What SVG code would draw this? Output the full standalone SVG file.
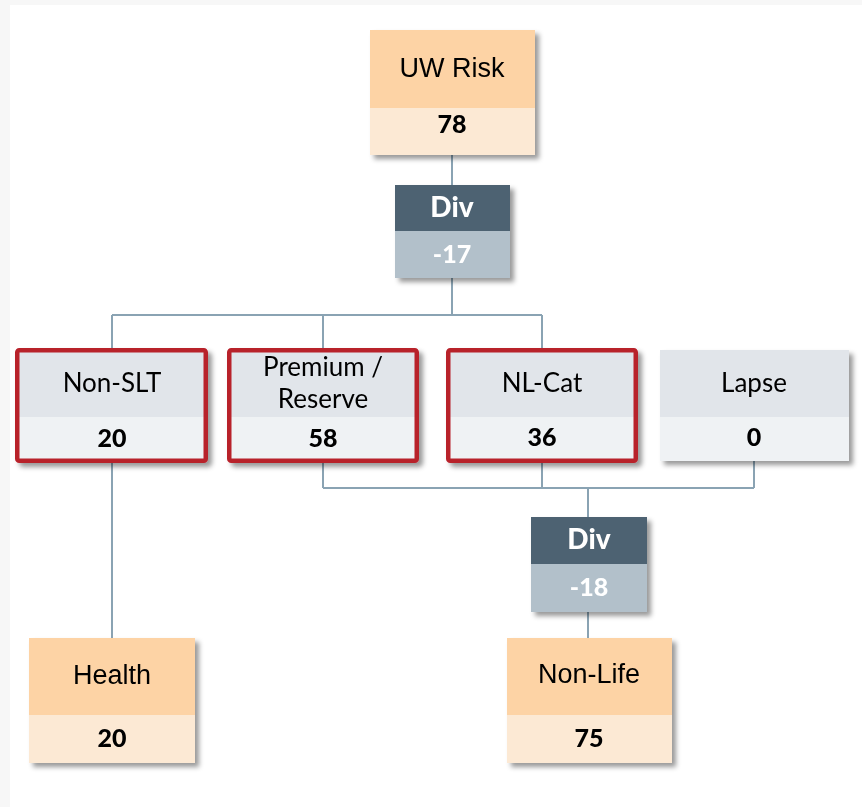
<svg xmlns="http://www.w3.org/2000/svg" width="862" height="807" viewBox="0 0 862 807">
<defs>
<filter id="sh" x="-10%" y="-10%" width="130%" height="130%">
<feDropShadow dx="4" dy="4" stdDeviation="2.5" flood-color="#000" flood-opacity="0.4"/>
</filter>
</defs>
<style>
.or1{fill:#FDD3A5}
.or2{fill:#FCE9D4}
.dv1{fill:#4E6272}
.dv2{fill:#B2C0CA}
.gr1{fill:#E1E5EA}
.gr2{fill:#EFF2F4}
.red{fill:none;stroke:#B8202A;stroke-width:4.5}
.lbl{font-family:"Liberation Sans",Arial,sans-serif;font-size:27px;fill:#000;text-anchor:middle}
.cal{font-family:Lato,"Open Sans",sans-serif;font-size:26px;fill:#000;text-anchor:middle}
.num{font-family:Lato,"Open Sans",sans-serif;font-size:25px;font-weight:900;fill:#000;text-anchor:middle}
.dvt{font-family:Lato,"Open Sans",sans-serif;font-size:28px;font-weight:900;fill:#fff;text-anchor:middle}
.dvn{font-family:Lato,"Open Sans",sans-serif;font-size:25px;font-weight:900;fill:#fff;text-anchor:middle}
.con{fill:none;stroke:#8AA3B3;stroke-width:2}
</style>
<rect x="0" y="0" width="862" height="807" fill="#F7F7F7"/>
<rect x="10" y="5" width="852" height="802" fill="#FFFFFF"/>
<g id="connectors">
<path class="con" d="M452 155V185"/>
<path class="con" d="M452 277V315M112 315H542M112 315V350M323 315V350M542 315V350"/>
<path class="con" d="M112 460V638"/>
<path class="con" d="M323 460V488M542 460V488M754 460V488M323 488H754M588 488V517"/>
<path class="con" d="M588 612V638"/>
</g>
<g id="uw-risk" filter="url(#sh)">
<rect class="or1" x="370" y="30" width="165" height="78"/>
<rect class="or2" x="370" y="108" width="165" height="47"/>
<text class="lbl" x="452" y="77">UW Risk</text>
<text class="num" x="452" y="133">78</text>
</g>
<g id="div1" filter="url(#sh)">
<rect class="dv1" x="395" y="185" width="115" height="46"/>
<rect class="dv2" x="395" y="231" width="115" height="47"/>
<text class="dvt" x="452" y="217">Div</text>
<text class="dvn" x="452" y="263">-17</text>
</g>
<g id="non-slt" filter="url(#sh)">
<rect class="gr1" x="17" y="350" width="189" height="67"/>
<rect class="gr2" x="17" y="417" width="189" height="44"/>
<rect class="red" x="17.25" y="350.25" width="188.5" height="110.5" rx="2"/>
<text class="cal" x="112" y="392">Non-SLT</text>
<text class="num" x="112" y="447">20</text>
</g>
<g id="premium-reserve" filter="url(#sh)">
<rect class="gr1" x="229" y="350" width="188" height="67"/>
<rect class="gr2" x="229" y="417" width="188" height="44"/>
<rect class="red" x="229.25" y="350.25" width="187.5" height="110.5" rx="2"/>
<text class="cal" x="323" y="376">Premium /</text>
<text class="cal" x="323" y="408">Reserve</text>
<text class="num" x="323" y="447">58</text>
</g>
<g id="nl-cat" filter="url(#sh)">
<rect class="gr1" x="448" y="350" width="188" height="67"/>
<rect class="gr2" x="448" y="417" width="188" height="44"/>
<rect class="red" x="448.25" y="350.25" width="187.5" height="110.5" rx="2"/>
<text class="cal" x="542" y="392">NL-Cat</text>
<text class="num" x="542" y="446">36</text>
</g>
<g id="lapse" filter="url(#sh)">
<rect class="gr1" x="660" y="350" width="189" height="67"/>
<rect class="gr2" x="660" y="417" width="189" height="44"/>
<text class="cal" x="754" y="392">Lapse</text>
<text class="num" x="754" y="446">0</text>
</g>
<g id="div2" filter="url(#sh)">
<rect class="dv1" x="531" y="517" width="116" height="47"/>
<rect class="dv2" x="531" y="564" width="116" height="48"/>
<text class="dvt" x="589" y="549">Div</text>
<text class="dvn" x="589" y="596">-18</text>
</g>
<g id="health" filter="url(#sh)">
<rect class="or1" x="29" y="638" width="166" height="77"/>
<rect class="or2" x="29" y="715" width="166" height="48"/>
<text class="lbl" x="112" y="684">Health</text>
<text class="num" x="112" y="747">20</text>
</g>
<g id="non-life" filter="url(#sh)">
<rect class="or1" x="507" y="638" width="165" height="77"/>
<rect class="or2" x="507" y="715" width="165" height="48"/>
<text class="lbl" x="589" y="683">Non-Life</text>
<text class="num" x="589" y="747">75</text>
</g>
</svg>
